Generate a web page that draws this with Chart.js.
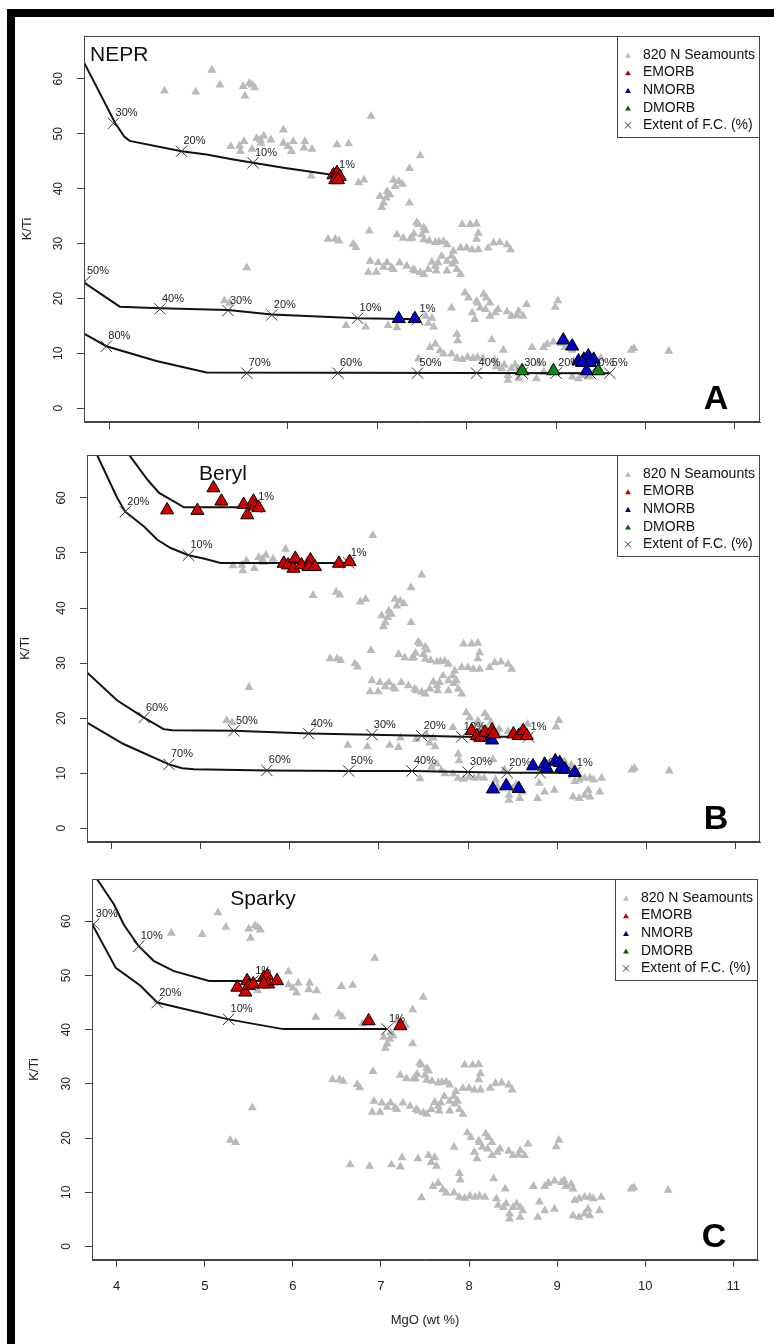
<!DOCTYPE html>
<html>
<head>
<meta charset="utf-8">
<script src="https://cdn.jsdelivr.net/npm/chart.js@4.4.0/dist/chart.umd.min.js"></script>
<style>
  html, body { margin: 0; padding: 0; background: #fff; }
  #fig { position: relative; width: 774px; height: 1344px; background: #fff; overflow: hidden; }
  #fig canvas { position: absolute; left: 0; }
  .bar { position: absolute; background: #000; z-index: 5; }
</style>
</head>
<body>
<div id="fig">
  <canvas id="panelA" width="774" height="440" style="top:0px"></canvas>
  <canvas id="panelB" width="774" height="430" style="top:440px"></canvas>
  <canvas id="panelC" width="774" height="474" style="top:870px"></canvas>
  <div class="bar" style="left:7px;top:9px;width:8px;height:1335px"></div>
  <div class="bar" style="left:7px;top:9px;width:767px;height:8px"></div>
</div>
<script>
// axis setup
const xTicks = [4, 5, 6, 7, 8, 9, 10, 11];
const yTicks = [0, 10, 20, 30, 40, 50, 60];
const xRange = [3.72, 11.28];
const yRange = [-2.5, 67.8];
const xTitle = 'MgO (wt %)';
const yTitle = 'K/Ti';
const legendLabels = ['820 N Seamounts', 'EMORB', 'NMORB', 'DMORB', 'Extent of F.C. (%)'];

// 820 N seamounts [MgO, K/Ti] - same in every panel
const seamounts = [
  [5.15,61.6],[5.24,58.9],[4.62,57.8],[4.97,57.6],[5.50,58.6],[5.60,58.9],[5.63,58.4],[5.52,56.9],[5.57,59.2],
  [5.95,50.7],[5.36,47.7],[5.46,47.8],[5.51,48.6],[5.47,46.8],[5.69,48.9],[5.73,49.6],[5.70,48.3],[5.81,48.9],
  [5.95,48.3],[6.00,47.7],[6.06,48.6],[6.04,46.8],[6.19,48.6],[6.18,47.4],[6.27,47.2],[6.55,48.0],[6.68,48.2],
  [5.60,47.2],[5.65,49.2],[6.93,53.2],
  [6.26,42.3],[6.52,42.9],[6.56,42.4],[6.79,41.1],[6.85,41.6],
  [7.48,46.0],[7.36,43.7],[7.18,41.6],[7.24,41.3],[7.20,40.4],[7.11,39.5],[7.14,38.9],[7.03,38.6],[7.07,37.4],
  [7.36,37.4],[7.05,36.6],[7.10,38.3],[7.28,40.8],
  [6.91,32.3],[6.45,30.8],[6.53,30.8],[6.57,30.5],[6.73,29.9],[6.76,29.3],[7.22,31.6],[7.29,31.0],[7.39,31.0],
  [7.46,33.5],[7.52,32.9],[7.50,31.6],[7.52,30.7],[7.44,33.8],[7.54,32.4],[7.95,33.5],[8.04,33.5],[8.11,33.6],
  [8.13,31.9],[8.11,30.8],[7.65,30.2],[7.74,30.4],[7.78,29.8],[7.85,28.6],[7.93,29.2],[8.00,29.2],[8.06,28.9],
  [8.13,28.9],[8.24,29.2],[8.30,30.1],[8.37,30.2],[8.45,29.8],[8.49,28.9],[7.58,30.5],[7.69,30.3],[7.37,30.9],
  [7.41,31.8],
  [6.92,26.8],[7.01,26.5],[7.11,26.5],[7.16,25.6],[6.90,24.8],[6.99,24.8],[7.07,25.7],[7.25,26.5],[7.33,25.9],
  [7.40,25.3],[7.48,24.7],[7.52,24.4],[7.57,25.3],[7.61,26.6],[7.65,25.9],[7.68,26.5],[7.72,27.7],[7.78,26.8],
  [7.83,27.7],[7.87,26.8],[7.89,25.3],[7.93,24.4],[7.78,25.0],[7.66,25.0],[7.84,26.3],[7.42,25.0],[7.18,25.3],
  [5.54,25.6],[5.29,19.6],[5.35,19.2],
  [6.65,15.1],[6.87,14.8],[7.12,15.1],[7.22,14.7],[7.24,16.4],[7.42,16.2],[7.54,16.8],[7.57,15.5],[7.61,16.4],
  [7.63,14.8],[7.98,21.0],[8.02,20.1],[8.11,19.5],[8.19,20.8],[8.22,20.1],[8.26,19.2],[8.15,18.3],[8.21,18.0],
  [8.26,16.8],[8.32,17.4],[8.35,18.0],[8.45,17.6],[8.50,16.8],[8.56,16.9],[8.63,16.8],[8.67,18.9],[8.58,17.7],
  [7.83,18.3],[8.06,17.4],[8.09,16.2],[8.99,18.4],[9.02,19.6],[8.12,19.2],
  [7.89,13.5],[7.90,12.3],[8.28,12.5],[7.59,11.1],[7.65,11.7],[7.70,10.5],[7.74,9.9],[7.46,9.0],[7.83,9.9],
  [7.89,9.1],[7.95,8.9],[8.01,9.3],[8.07,9.1],[8.12,9.3],[8.18,9.1],[8.41,10.6],[8.73,11.1],[8.86,11.1],
  [8.90,11.7],[8.97,12.1],[9.05,11.8],[9.08,12.2],[9.10,11.1],[9.16,11.5],[9.18,10.6],
  [8.31,8.8],[8.33,7.6],[8.39,7.2],[8.42,7.9],[8.50,7.2],[8.54,7.9],[8.58,7.2],[8.61,6.6],[8.46,6.0],
  [8.46,5.1],[8.58,5.4],[8.80,8.2],[8.86,6.6],[8.97,6.9],[8.78,5.4],[9.20,8.5],[9.25,8.8],[9.31,9.1],
  [9.37,9.1],[9.41,8.8],[9.50,9.1],[9.18,5.7],[9.25,5.4],[9.31,6.0],[9.35,6.9],[9.37,5.7],[9.48,6.6],
  [9.84,10.6],[9.87,10.9],[10.26,10.4]
];

// Panel A - NEPR
const neprEmorb = [[6.51,42.5],[6.55,42.9],[6.58,42.2],[6.53,41.6],[6.56,41.6]];
const neprNmorb = [[7.24,16.3],[7.42,16.3],[9.08,12.4],[9.18,11.3],[9.25,8.6],[9.31,8.9],[9.36,9.5],
  [9.42,8.9],[9.38,8.3],[9.29,8.3],[9.34,6.8]];
const neprDmorb = [[8.62,6.8],[8.97,6.8],[9.47,6.8]];
const neprCurve1 = [[3.72,63.0],[4.07,51.9],[4.17,49.5],[4.23,48.7],[4.81,46.8],[5.09,46.2],[5.39,45.3],
  [5.61,44.7],[5.95,43.8],[6.55,42.4]];
const neprCurve2 = [[3.72,22.9],[4.12,18.5],[4.57,18.2],[5.33,17.9],[5.82,17.1],[6.79,16.4],[7.48,16.2]];
const neprCurve3 = [[3.72,13.6],[3.97,11.3],[4.53,8.6],[5.09,6.5],[9.60,6.4]];
const neprFc = [[4.05,51.9],[4.81,46.8],[5.61,44.7],[6.55,42.5],
  [3.73,23.1],[4.57,18.1],[5.33,17.8],[5.82,17.0],[6.78,16.4],[7.45,16.2],
  [3.97,11.3],[5.54,6.4],[6.56,6.4],[7.45,6.4],[8.11,6.4],[8.62,6.4],[9.00,6.4],[9.38,6.4],[9.60,6.4]];
const neprFcLabels = ['30%','20%','10%','1%','50%','40%','30%','20%','10%','1%',
  '80%','70%','60%','50%','40%','30%','20%','10%','5%'];

// Panel B - Beryl
const berylEmorb = [[4.62,57.8],[4.96,57.7],[5.14,61.8],[5.23,59.4],[5.48,58.8],[5.52,56.9],[5.59,59.4],
  [5.61,58.5],[5.65,58.2],[5.93,48.1],[5.98,47.8],[6.06,49.0],[6.04,47.2],[6.13,47.8],[6.23,48.7],[6.21,47.5],
  [6.28,47.5],[6.55,48.1],[6.67,48.4],[8.04,17.7],[8.10,16.8],[8.14,16.5],[8.19,17.4],[8.27,17.8],[8.29,17.1],
  [8.51,17.1],[8.57,16.8],[8.62,17.7],[8.66,16.8]];
const berylNmorb = [[8.21,16.5],[8.27,16.0],[8.73,11.3],[8.86,11.6],[8.88,11.0],[8.98,12.2],[9.03,11.9],
  [9.05,11.0],[9.09,10.7],[9.20,10.1],[8.28,7.1],[8.43,7.7],[8.57,7.2]];
const berylDmorb = [];
const berylCurve1 = [[4.12,70.0],[4.19,67.9],[4.40,63.3],[4.53,60.9],[4.81,58.3],[5.67,58.3]];
const berylCurve2 = [[3.80,70.0],[3.83,67.9],[4.06,60.0],[4.15,57.5],[4.36,54.8],[4.51,52.4],[4.66,50.9],
  [4.86,49.6],[5.03,49.0],[5.22,48.2],[6.66,48.2]];
const berylCurve3 = [[3.72,28.3],[4.06,23.2],[4.36,20.1],[4.58,18.0],[4.68,17.8],[5.37,17.7],[6.21,17.2],
  [6.92,17.0],[7.48,16.8],[7.93,16.6],[8.68,16.6]];
const berylCurve4 = [[3.72,19.2],[4.13,15.3],[4.64,11.6],[4.79,10.9],[4.92,10.7],[5.74,10.5],[6.66,10.4],
  [7.37,10.4],[8.00,10.2],[8.44,10.1],[9.20,10.1]];
const berylFc = [[4.15,57.5],[4.86,49.6],[6.66,48.2],[5.62,58.3],
  [4.36,20.1],[5.37,17.7],[6.21,17.2],[6.92,17.0],[7.48,16.8],[7.93,16.6],[8.68,16.6],
  [4.64,11.6],[5.74,10.5],[6.66,10.4],[7.37,10.4],[8.00,10.2],[8.44,10.1],[8.81,10.1],[9.20,10.1]];
const berylFcLabels = ['20%','10%','1%','1%',
  '60%','50%','40%','30%','20%','10%','1%',
  '70%','60%','50%','40%','30%','20%','10%','1%'];

// Panel C - Sparky
const sparkyEmorb = [[5.37,47.8],[5.46,46.9],[5.48,49.0],[5.50,48.1],[5.55,48.4],[5.67,49.6],[5.71,49.9],
  [5.72,48.4],[5.82,49.0],[5.67,48.4],[6.86,41.6],[7.22,40.7]];
const sparkyNmorb = [];
const sparkyDmorb = [];
const sparkyCurve1 = [[3.74,69.0],[3.78,67.7],[3.97,63.1],[4.08,59.4],[4.25,55.4],[4.42,52.7],[4.65,50.8],
  [5.05,49.0],[5.67,49.0]];
const sparkyCurve2 = [[3.72,59.5],[3.99,51.4],[4.27,48.1],[4.46,45.0],[5.27,41.9],[5.89,40.1],[7.07,40.1]];
const sparkyFc = [[3.74,59.5],[4.25,55.4],[4.46,45.0],[5.27,41.9],[5.55,49.0],[7.07,40.1]];
const sparkyFcLabels = ['30%','10%','20%','10%','1%','1%'];

const colors = {
  grey: '#bababa',
  emorb: '#d00000',
  nmorb: '#0000c8',
  dmorb: '#0b8a0b',
  line: '#111111',
  cross: '#333333',
  axis: '#444444',
  text: '#222222'
};
const legendColors = [colors.grey, '#b00000', '#00008b', '#006400', colors.cross];
const FONT = '"Liberation Sans", Arial, sans-serif';

const toPts = arr => arr.map(([x, y]) => ({ x, y }));

function drawTri(ctx, x, y, r, fill) {
  ctx.beginPath();
  for (let i = 0; i < 3; i++) {
    const a = i * 2 * Math.PI / 3;
    const px = x + Math.sin(a) * r, py = y - Math.cos(a) * r;
    if (i === 0) ctx.moveTo(px, py); else ctx.lineTo(px, py);
  }
  ctx.closePath();
  ctx.fillStyle = fill;
  ctx.fill();
}

const rPlot = {
  id: 'rPlot',
  afterDatasetDraw(chart, args, opts) {
    if (args.index !== opts.fcIndex) return;
    const ctx = chart.ctx;
    const xs = chart.scales.x, ys = chart.scales.y;
    ctx.save();
    ctx.fillStyle = colors.text;
    ctx.font = '11px ' + FONT;
    ctx.textAlign = 'left';
    ctx.textBaseline = 'middle';
    opts.fc.forEach(([x, y], i) => {
      ctx.fillText(opts.fcLabels[i], xs.getPixelForValue(x) + 2, ys.getPixelForValue(y) - 10);
    });
    ctx.restore();
  },
  afterDraw(chart, args, opts) {
    const ctx = chart.ctx;
    const a = chart.chartArea;
    const ys = chart.scales.y;
    ctx.save();
    // box
    ctx.strokeStyle = colors.axis;
    ctx.lineWidth = 1;
    ctx.strokeRect(a.left + 0.5, a.top + 0.5, a.right - a.left - 1, a.bottom - a.top - 1);

    // y tick labels, rotated like R
    ctx.fillStyle = colors.text;
    ctx.font = '12px ' + FONT;
    ctx.textAlign = 'center';
    ctx.textBaseline = 'middle';
    yTicks.forEach(v => {
      ctx.save();
      ctx.translate(a.left - 25, ys.getPixelForValue(v));
      ctx.rotate(-Math.PI / 2);
      ctx.fillText(String(v), 0, 0);
      ctx.restore();
    });
    // y title
    ctx.save();
    ctx.font = '13px ' + FONT;
    ctx.translate(opts.yTitleX, (a.top + a.bottom) / 2);
    ctx.rotate(-Math.PI / 2);
    ctx.fillText(yTitle, 0, 0);
    ctx.restore();

    // x title
    if (opts.showX) {
      ctx.font = '13px ' + FONT;
      ctx.fillText(xTitle, (a.left + a.right) / 2, a.bottom + 60);
    }

    // panel name
    ctx.font = '21px ' + FONT;
    ctx.textAlign = opts.titleAlign;
    ctx.fillStyle = '#111';
    ctx.fillText(opts.title, opts.titleX, a.top + opts.titleDy);

    // panel letter
    ctx.font = 'bold 34px ' + FONT;
    ctx.textAlign = 'center';
    ctx.fillStyle = '#000';
    ctx.fillText(opts.letter, a.right - 44, a.bottom - 22);

    // legend
    const lw = 143, lh = 102;
    const lx = a.right - lw, ly = a.top;
    ctx.fillStyle = '#fff';
    ctx.fillRect(lx, ly, lw, lh);
    ctx.strokeStyle = colors.axis;
    ctx.strokeRect(lx + 0.5, ly + 0.5, lw - 1, lh - 1);
    ctx.font = '14px ' + FONT;
    ctx.textAlign = 'left';
    legendLabels.forEach((lab, i) => {
      const yy = ly + 19 + i * 17.6;
      if (i < 4) {
        drawTri(ctx, lx + 11, yy + 1, 3.4, legendColors[i]);
      } else {
        ctx.strokeStyle = legendColors[i];
        ctx.beginPath();
        ctx.moveTo(lx + 8, yy - 3); ctx.lineTo(lx + 14, yy + 3);
        ctx.moveTo(lx + 14, yy - 3); ctx.lineTo(lx + 8, yy + 3);
        ctx.stroke();
      }
      ctx.fillStyle = '#111';
      ctx.fillText(lab, lx + 26, yy);
    });
    ctx.restore();
  }
};

function makePanel(canvasId, p) {
  const canvas = document.getElementById(canvasId);
  const H = canvas.height;
  const xH = p.showX ? 40 : 8;
  const datasets = [{
    data: toPts(seamounts), pointStyle: 'triangle', pointRadius: 5.2,
    backgroundColor: colors.grey, borderColor: colors.grey, borderWidth: 0, order: 6
  }];
  p.curves.forEach(c => datasets.push({
    data: toPts(c), showLine: true, pointRadius: 0,
    borderColor: colors.line, borderWidth: 2, order: 5
  }));
  const fcIndex = datasets.length;
  datasets.push({
    data: toPts(p.fc), pointStyle: 'crossRot', pointRadius: 8,
    borderColor: colors.cross, backgroundColor: colors.cross, borderWidth: 1, order: 4
  });
  [[p.emorb, colors.emorb], [p.nmorb, colors.nmorb], [p.dmorb, colors.dmorb]].forEach(([d, c]) => {
    datasets.push({
      data: toPts(d), pointStyle: 'triangle', pointRadius: 7.6,
      backgroundColor: c, borderColor: '#000', borderWidth: 1, order: 1
    });
  });

  new Chart(canvas.getContext('2d'), {
    type: 'scatter',
    data: { datasets },
    options: {
      responsive: false,
      animation: false,
      events: [],
      layout: {
        padding: { left: p.area.left - 8, top: p.area.top, right: 774 - p.area.right, bottom: H - p.area.bottom - xH }
      },
      plugins: {
        legend: { display: false },
        tooltip: { enabled: false },
        rPlot: {
          fcIndex, fc: p.fc, fcLabels: p.fcLabels, showX: p.showX,
          title: p.title, titleX: p.titleX, titleDy: p.titleDy, titleAlign: p.titleAlign,
          letter: p.letter, yTitleX: p.yTitleX
        }
      },
      scales: {
        x: {
          type: 'linear', min: xRange[0], max: xRange[1],
          afterBuildTicks: s => { s.ticks = xTicks.map(v => ({ value: v })); },
          afterFit: s => { s.height = xH; },
          grid: { drawOnChartArea: false, drawTicks: true, tickLength: 7, color: colors.axis },
          border: { display: true, color: colors.axis, width: 1 },
          ticks: {
            display: p.showX, color: colors.text, padding: 12, maxRotation: 0, autoSkip: false,
            font: { family: FONT, size: 13 }, callback: v => String(v)
          }
        },
        y: {
          type: 'linear', min: yRange[0], max: yRange[1],
          afterBuildTicks: s => { s.ticks = yTicks.map(v => ({ value: v })); },
          afterFit: s => { s.width = 8; },
          grid: { drawOnChartArea: false, drawTicks: true, tickLength: 7, color: colors.axis },
          border: { display: true, color: colors.axis, width: 1 },
          ticks: { display: false }
        }
      }
    },
    plugins: [rPlot]
  });
}

makePanel('panelA', {
  area: { left: 84, top: 36, right: 760, bottom: 422 },
  curves: [neprCurve1, neprCurve2, neprCurve3],
  fc: neprFc, fcLabels: neprFcLabels,
  emorb: neprEmorb, nmorb: neprNmorb, dmorb: neprDmorb,
  title: 'NEPR', titleX: 90, titleDy: 19, titleAlign: 'left',
  letter: 'A', yTitleX: 27, showX: false
});
makePanel('panelB', {
  area: { left: 87, top: 15, right: 760, bottom: 402 },
  curves: [berylCurve1, berylCurve2, berylCurve3, berylCurve4],
  fc: berylFc, fcLabels: berylFcLabels,
  emorb: berylEmorb, nmorb: berylNmorb, dmorb: berylDmorb,
  title: 'Beryl', titleX: 223, titleDy: 19, titleAlign: 'center',
  letter: 'B', yTitleX: 25, showX: false
});
makePanel('panelC', {
  area: { left: 92, top: 7, right: 758, bottom: 390 },
  curves: [sparkyCurve1, sparkyCurve2],
  fc: sparkyFc, fcLabels: sparkyFcLabels,
  emorb: sparkyEmorb, nmorb: sparkyNmorb, dmorb: sparkyDmorb,
  title: 'Sparky', titleX: 263, titleDy: 20, titleAlign: 'center',
  letter: 'C', yTitleX: 34, showX: true
});
</script>
</body>
</html>
